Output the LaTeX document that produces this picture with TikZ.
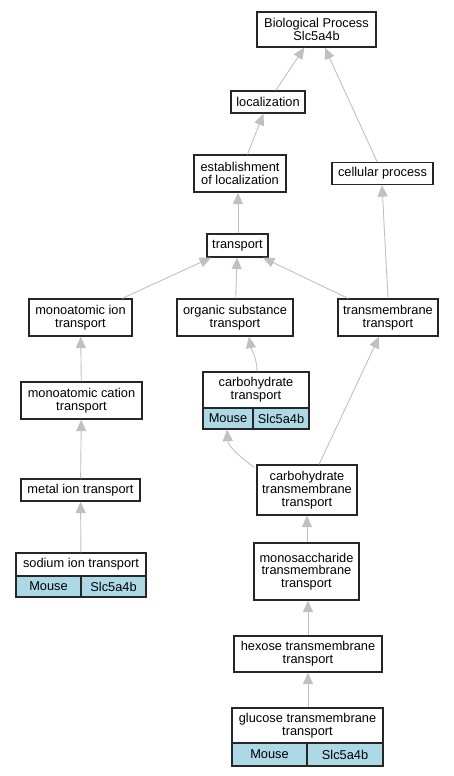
\documentclass[tikz,border=0pt]{standalone}
\usepackage{fontspec}
\setmainfont{Liberation Sans}
\usetikzlibrary{arrows.meta,calc}
\definecolor{edgegray}{HTML}{C0C0C0}
\definecolor{cellblue}{HTML}{ADD8E6}
\tikzset{
  box/.style={draw=black!85, line width=1.2pt, fill=white, inner sep=0pt, align=center,
    font=\fontsize{12.8}{12.7}\selectfont},
  cellbox/.style={box, fill=cellblue},
  edge/.style={draw=edgegray, line width=0.9pt, -{Triangle[length=11.5pt,width=10pt,fill=edgegray]}},
}
\begin{document}
\begin{tikzpicture}[x=1pt,y=-1pt]
\useasboundingbox (0,0) rectangle (453,776);
% nodes
\node[box, minimum width=119pt, minimum height=35pt] (bp) at (316.5,29.5) {Biological Process\\Slc5a4b};
\node[box, minimum width=74pt, minimum height=22pt] (loc) at (268,102) {localization};
\node[box, minimum width=92pt, minimum height=37pt] (est) at (240,173.5) {establishment\\of localization};
\node[box, minimum width=101pt, minimum height=22pt] (cell) at (382.5,173.5) {cellular process};
\node[box, minimum width=61pt, minimum height=23pt] (tr) at (237.5,245.5) {transport};
\node[box, minimum width=103pt, minimum height=37pt] (mit) at (80.5,317.5) {monoatomic ion\\transport};
\node[box, minimum width=116pt, minimum height=37pt] (ost) at (235,317.5) {organic substance\\transport};
\node[box, minimum width=100pt, minimum height=37pt] (tmt) at (388,317.5) {transmembrane\\transport};
\node[box, minimum width=106pt, minimum height=36pt] (ct) at (256,390) {carbohydrate\\transport};
\node[cellbox, minimum width=50pt, minimum height=21pt] (ctm) at (228,418.5) {Mouse};
\node[cellbox, minimum width=56pt, minimum height=21pt] (cts) at (281,418.5) {Slc5a4b};
\node[box, minimum width=121pt, minimum height=37pt] (mct) at (81.5,400.5) {monoatomic cation\\transport};
\node[box, minimum width=100pt, minimum height=50pt] (ctt) at (307,490) {carbohydrate\\transmembrane\\transport};
\node[box, minimum width=119pt, minimum height=22pt] (mi) at (80.5,490) {metal ion transport};
\node[box, minimum width=130pt, minimum height=23pt] (sod) at (81,564.5) {sodium ion transport};
\node[cellbox, minimum width=65pt, minimum height=21pt] (sodm) at (48.5,586.5) {Mouse};
\node[cellbox, minimum width=65pt, minimum height=21pt] (sods) at (113.5,586.5) {Slc5a4b};
\node[box, minimum width=105pt, minimum height=57pt] (mono) at (306.5,571.5) {monosaccharide\\transmembrane\\transport};
\node[box, minimum width=148pt, minimum height=36pt] (hex) at (308,654) {hexose transmembrane\\transport};
\node[box, minimum width=151pt, minimum height=35pt] (glu) at (307.5,725.5) {glucose transmembrane\\transport};
\node[cellbox, minimum width=75pt, minimum height=23pt] (glum) at (269.5,754.5) {Mouse};
\node[cellbox, minimum width=76pt, minimum height=23pt] (glus) at (345,754.5) {Slc5a4b};
% edges
\draw[edge] (loc) -- (bp);
\draw[edge] (cell) -- (bp);
\draw[edge] (est) -- (loc);
\draw[edge] (tr.north -| 238,0) -- (est.south -| 238,0);
\draw[edge] (tmt.north -| 388,0) -- (cell.south -| 382,0);
\draw[edge] (mit) -- (tr);
\draw[edge] (ost) -- (tr);
\draw[edge] (tmt) -- (tr);
\draw[edge] ($(ct.north)+(1,0)$) .. controls (257,358) and (251,348) .. ($(ost.south)+(14,0)$);
\draw[edge] ($(ctt.north west)+(-2,3)$) .. controls (237,455) and (228,445) .. ($(ctm.south)+(-1,0)$);
\draw[edge] (ctt) -- (tmt);
\draw[edge] (mct) -- (mit);
\draw[edge] (mi) -- (mct);
\draw[edge] (sod) -- (mi);
\draw[edge] (mono.north -| 307,0) -- (ctt.south -| 307,0);
\draw[edge] (hex.north -| 308,0) -- (mono.south -| 308,0);
\draw[edge] (glu.north -| 308,0) -- (hex.south -| 308,0);
\end{tikzpicture}
\end{document}
